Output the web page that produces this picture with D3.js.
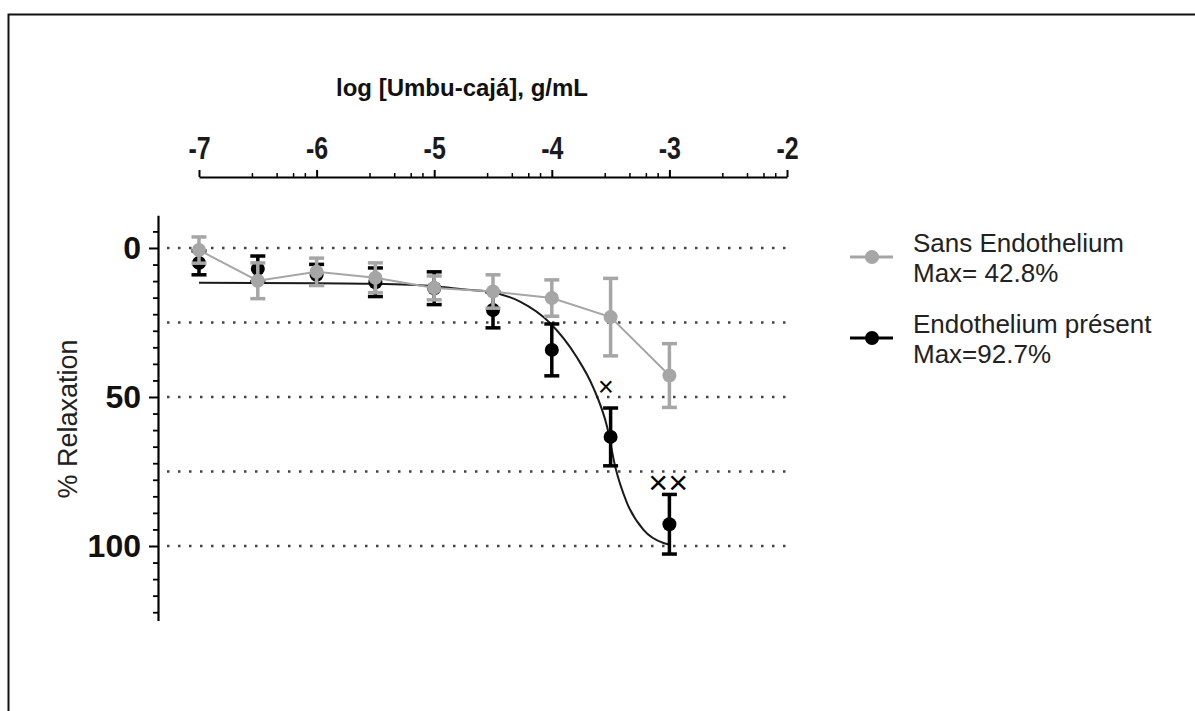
<!DOCTYPE html>
<html>
<head>
<meta charset="utf-8">
<script src="https://cdn.jsdelivr.net/npm/d3@7"></script>
<style>
  body { margin: 0; background: #fff; }
  svg { display: block; }
  text { font-family: "Liberation Sans", Arial, sans-serif; }
</style>
</head>
<body>
<svg id="chart"></svg>
<script>
// log concentrations (g/mL)
const concentrations = [-7, -6.5, -6, -5.5, -5, -4.5, -4, -3.5, -3];

// Sans Endothelium (mean, SEM)
const sansMean = [0.7, 11, 8, 10, 13.4, 14.6, 16.8, 23.2, 42.8];
const sansErr  = [4.4, 6, 4.6, 5, 4, 5.6, 6.1, 13, 10.7];

// Endothelium présent (mean, SEM)
const presMean = [5, 7, 9, 11.5, 13.5, 20.8, 34.2, 63.4, 92.7];
const presErr  = [4, 4.3, 3.5, 4.8, 5.5, 6, 8.7, 9.7, 10];

// fitted curve
const fitX = [-7, -6, -5.5, -5, -4.78, -4.53, -4.27, -4.02, -3.79, -3.65, -3.53, -3.46, -3.36, -3.22, -3.05, -3];
const fitY = [11.7, 11.8, 12, 12.8, 13.8, 14.7, 18, 25, 36.5, 46.6, 60, 73.5, 85.6, 94.6, 99, 99.5];

// significance marks
const sigX = [-3.54, -3.01];
const sigY = [46.6, 78.5];
const sigLabel = ["×", "××"];

const xTicks = [-7, -6, -5, -4, -3, -2];
const xMinorOffsets = [0.45, 0.66, 0.80, 0.90];
const yTicks = [0, 50, 100];
const gridValues = [0, 25, 50, 75, 100];

const legendNames = [["Sans Endothelium", "Max= 42.8%"], ["Endothelium présent", "Max=92.7%"]];

const width = 1195, height = 711;
const svg = d3.select("#chart").attr("width", width).attr("height", height);

const x = d3.scaleLinear().domain([-7, -2]).range([199, 787]);
const y = d3.scaleLinear().domain([-11, 125]).range([215.2, 620.5]);

const grey = "#a6a6a6";

// frame
svg.append("path")
    .attr("d", `M8.5,${height} V14.5 H${width}`)
    .attr("fill", "none")
    .attr("stroke", "#111")
    .attr("stroke-width", 2);

// dotted grid lines
svg.selectAll(".grid")
    .data(gridValues)
    .enter()
    .append("line")
    .attr("class", "grid")
    .attr("x1", 167).attr("x2", 790)
    .attr("y1", d => y(d)).attr("y2", d => y(d))
    .attr("stroke", "#444")
    .attr("stroke-width", 2.5)
    .attr("stroke-dasharray", "2.5 8.5");

// top axis
const axisY = 177;
const topAxis = svg.append("g")
    .attr("transform", `translate(0,${axisY})`)
    .call(d3.axisTop(x).tickValues(xTicks).tickSize(7).tickSizeOuter(0).tickPadding(11)
        .tickFormat(d => String(d)));
topAxis.select(".domain").attr("stroke-width", 2.2);
topAxis.selectAll(".tick line").attr("stroke-width", 2);
topAxis.selectAll(".tick text")
    .attr("transform", "scale(0.78,1)")
    .style("font-size", "32px")
    .style("font-weight", "bold")
    .attr("fill", "#1a1a1a");

const minorVals = [];
xTicks.slice(0, -1).forEach(t => xMinorOffsets.forEach(o => minorVals.push(t + o)));
const minorAxis = svg.append("g")
    .attr("transform", `translate(0,${axisY})`)
    .call(d3.axisTop(x).tickValues(minorVals).tickSize(4).tickFormat(""));
minorAxis.select(".domain").remove();
minorAxis.selectAll(".tick line").attr("stroke-width", 1.5);

svg.append("text")
    .attr("x", 462)
    .attr("y", 96)
    .attr("text-anchor", "middle")
    .style("font-size", "24px")
    .style("font-weight", "bold")
    .attr("fill", "#111")
    .text("log [Umbu-cajá], g/mL");

// left axis
const axisX = 158;
const leftAxis = svg.append("g")
    .attr("transform", `translate(${axisX},0)`)
    .call(d3.axisLeft(y).tickValues(yTicks).tickSize(9).tickSizeOuter(0).tickPadding(8)
        .tickFormat(d => String(d)));
leftAxis.select(".domain").attr("stroke-width", 2.2);
leftAxis.selectAll(".tick line").attr("stroke-width", 2);
leftAxis.selectAll(".tick text")
    .style("font-size", "32px")
    .style("font-weight", "bold")
    .attr("fill", "#111");

const yMinor = d3.range(-1, 23).map(k => k * 50 / 9).filter(v => !yTicks.includes(Math.round(v * 1000) / 1000));
const leftMinor = svg.append("g")
    .attr("transform", `translate(${axisX},0)`)
    .call(d3.axisLeft(y).tickValues(yMinor).tickSize(5).tickFormat(""));
leftMinor.select(".domain").remove();
leftMinor.selectAll(".tick line").attr("stroke-width", 1.8);

svg.append("text")
    .attr("transform", "translate(77,419) rotate(-90)")
    .attr("text-anchor", "middle")
    .style("font-size", "27px")
    .attr("fill", "#222")
    .text("% Relaxation");

// fitted curve (Endothelium présent)
const fitData = fitX.map((v, i) => [v, fitY[i]]);
svg.append("path")
    .datum(fitData)
    .attr("fill", "none")
    .attr("stroke", "#1a1a1a")
    .attr("stroke-width", 2)
    .attr("d", d3.line().x(d => x(d[0])).y(d => y(d[1])).curve(d3.curveMonotoneX));

function drawSeries(means, errs, color, connect) {
    const data = concentrations.map((c, i) => ({c: c, m: means[i], e: errs[i]}));
    const g = svg.append("g");
    if (connect) {
        g.append("path")
            .datum(data)
            .attr("fill", "none")
            .attr("stroke", color)
            .attr("stroke-width", 2)
            .attr("d", d3.line().x(d => x(d.c)).y(d => y(d.m)));
    }
    const bars = g.selectAll(".err").data(data).enter().append("g");
    bars.append("line")
        .attr("x1", d => x(d.c)).attr("x2", d => x(d.c))
        .attr("y1", d => y(d.m - d.e)).attr("y2", d => y(d.m + d.e))
        .attr("stroke", color).attr("stroke-width", 3.5);
    [-1, 1].forEach(s => {
        bars.append("line")
            .attr("x1", d => x(d.c) - 7.5).attr("x2", d => x(d.c) + 7.5)
            .attr("y1", d => y(d.m + s * d.e)).attr("y2", d => y(d.m + s * d.e))
            .attr("stroke", color).attr("stroke-width", 3.5);
    });
    g.selectAll(".pt").data(data).enter().append("circle")
        .attr("cx", d => x(d.c))
        .attr("cy", d => y(d.m))
        .attr("r", 7)
        .attr("fill", color);
}

drawSeries(presMean, presErr, "#000", false);
drawSeries(sansMean, sansErr, grey, true);

// significance marks
svg.selectAll(".sig")
    .data(sigX.map((v, i) => ({x: v, y: sigY[i], t: sigLabel[i]})))
    .enter()
    .append("text")
    .attr("x", d => x(d.x))
    .attr("y", d => y(d.y) + (d.t.length > 1 ? 12 : 9))
    .attr("text-anchor", "middle")
    .style("font-size", d => d.t.length > 1 ? "34px" : "27px")
    .attr("fill", "#000")
    .text(d => d.t);

// legend
const legendColors = [grey, "#000"];
const legendY = [257, 338];
legendNames.forEach((lines, i) => {
    const g = svg.append("g").attr("transform", `translate(0,${legendY[i]})`);
    g.append("line").attr("x1", 850).attr("x2", 893).attr("y1", 0).attr("y2", 0)
        .attr("stroke", legendColors[i]).attr("stroke-width", 3);
    g.append("circle").attr("cx", 872).attr("cy", 0).attr("r", 7).attr("fill", legendColors[i]);
    lines.forEach((t, j) => {
        g.append("text")
            .attr("x", 913)
            .attr("y", -5 + j * 30)
            .style("font-size", "26px")
            .attr("fill", "#222")
            .text(t);
    });
});
</script>
</body>
</html>
